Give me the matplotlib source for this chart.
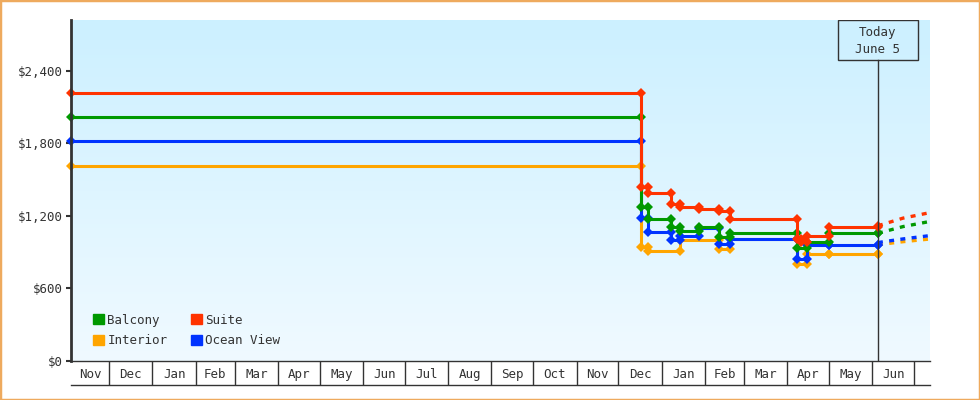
import numpy as np
import pandas as pd
import matplotlib
matplotlib.use("Agg")
import matplotlib.pyplot as plt
import matplotlib.dates as mdates
from matplotlib.patches import Patch, Rectangle
from matplotlib.ticker import FuncFormatter, FixedLocator

plt.rcParams['font.family'] = ['DejaVu Sans Mono', 'DejaVu Sans']

# Intervallo del grafico e data di oggi
inizio = pd.Timestamp("2020-11-03 14:00")
fine = pd.Timestamp("2022-07-12 08:00")
oggi = pd.Timestamp("2022-06-05")

# Prezzi osservati per ogni cabina (data, prezzo)
date_suite = ["2020-11-03 14:00", "2021-12-17", "2021-12-22", "2022-01-08", "2022-01-14", "2022-01-28",
              "2022-02-11", "2022-02-19", "2022-04-08", "2022-04-11", "2022-04-15", "2022-05-01", "2022-06-05"]
prezzi_suite = [2215, 1440, 1390, 1300, 1270, 1258, 1240, 1175, 1010, 985, 1032, 1105, 1112]

date_balcony = ["2020-11-03 14:00", "2021-12-17", "2021-12-22", "2022-01-08", "2022-01-14", "2022-01-28",
                "2022-02-11", "2022-02-19", "2022-04-08", "2022-04-15", "2022-05-01", "2022-06-05"]
prezzi_balcony = [2015, 1275, 1170, 1105, 1070, 1110, 1025, 1055, 930, 980, 1055, 1058]

date_ocean = ["2020-11-03 14:00", "2021-12-17", "2021-12-22", "2022-01-08", "2022-01-14", "2022-01-28",
              "2022-02-11", "2022-02-19", "2022-04-08", "2022-04-15", "2022-05-01", "2022-06-05"]
prezzi_ocean = [1815, 1180, 1068, 1003, 1030, 1095, 968, 1010, 845, 955, 955, 958]

date_interior = ["2020-11-03 14:00", "2021-12-17", "2021-12-22", "2022-01-14", "2022-02-11", "2022-02-19",
                 "2022-04-08", "2022-04-15", "2022-05-01", "2022-06-05"]
prezzi_interior = [1615, 940, 910, 1003, 925, 1008, 800, 880, 880, 882]

# Previsione (tratteggiata) dopo oggi
date_prev = ["2022-06-05", "2022-06-23", "2022-07-12"]
prev_suite = [1117, 1180, 1225]
prev_balcony = [1055, 1110, 1152]
prev_ocean = [978, 1008, 1035]
prev_interior = [960, 985, 1007]

etichette_mesi = ["Nov", "Dec", "Jan", "Feb", "Mar", "Apr", "May", "Jun", "Jul", "Aug", "Sep", "Oct",
                  "Nov", "Dec", "Jan", "Feb", "Mar", "Apr", "May", "Jun"]
tick_y = [0, 600, 1200, 1800, 2400]

colori = {"Balcony": "#009900", "Interior": "#ffa500", "Suite": "#ff3300", "Ocean View": "#0033ff"}


# Costruisco i punti a scalino (prezzo vecchio e prezzo nuovo alla stessa data)
def punti_scalino(date, prezzi):
    xs, ys = [], []
    for i, (d, p) in enumerate(zip(date, prezzi)):
        if i > 0:
            xs.append(d)
            ys.append(prezzi[i - 1])
        xs.append(d)
        ys.append(p)
    return pd.to_datetime(xs, format="ISO8601"), ys


fig = plt.figure(figsize=(9.8, 4), dpi=100)
ax = fig.add_axes([71 / 980, (400 - 360.7) / 400, 859 / 980, 340.7 / 400])

# Sfondo sfumato
grad = np.linspace(0, 1, 256).reshape(-1, 1)
cmap = matplotlib.colors.LinearSegmentedColormap.from_list("sfondo", ["#f0faff", "#ccf0ff"])
ax.imshow(grad, extent=[0, 1, 0, 1], transform=ax.transAxes, aspect="auto",
          origin="lower", cmap=cmap, zorder=0)

serie = [("Interior", date_interior, prezzi_interior, prev_interior),
         ("Ocean View", date_ocean, prezzi_ocean, prev_ocean),
         ("Balcony", date_balcony, prezzi_balcony, prev_balcony),
         ("Suite", date_suite, prezzi_suite, prev_suite)]

for z, (nome, d, p, prev) in enumerate(serie):
    xs, ys = punti_scalino(d, p)
    ax.plot(xs, ys, color=colori[nome], lw=2.2, marker="D", ms=5.6, mew=0,
            clip_on=False, zorder=3 + z)
    ax.plot(pd.to_datetime(date_prev), prev, color=colori[nome], lw=2.4,
            linestyle=(0, (1.5, 1.9)), zorder=3 + z)

ax.set_xlim(inizio, fine)
ax.set_ylim(0, 2820)

# Asse y
ax.yaxis.set_major_locator(FixedLocator(tick_y))
ax.yaxis.set_major_formatter(FuncFormatter(lambda v, pos: "${:,.0f}".format(v)))
ax.tick_params(axis="y", length=3.5, width=1.5, pad=2, colors="#333333", labelsize=9)

# Asse x: riquadri dei mesi
inizi_mesi = pd.date_range("2020-11-01", "2022-07-01", freq="MS")
confini = [m for m in inizi_mesi if inizio < m < fine]
centri = []
for i in range(len(etichette_mesi)):
    a = max(inizi_mesi[i], inizio)
    b = min(inizi_mesi[i + 1], fine)
    centri.append(a + (b - a) / 2)
ax.xaxis.set_minor_locator(FixedLocator(mdates.date2num(confini)))
ax.xaxis.set_major_locator(FixedLocator(mdates.date2num(centri)))
ax.set_xticklabels(etichette_mesi)
ax.tick_params(axis="x", which="major", length=0, pad=5, colors="#333333", labelsize=9)
ax.tick_params(axis="x", which="minor", length=17.5, width=1, color="#333333")
ax.plot([0, 1], [-0.0713, -0.0713], transform=ax.transAxes, color="#333333", lw=1, clip_on=False)

for lato in ["top", "right"]:
    ax.spines[lato].set_visible(False)
ax.spines["left"].set_linewidth(2)
ax.spines["left"].set_color("#333333")
ax.spines["bottom"].set_linewidth(1)
ax.spines["bottom"].set_color("#333333")
ax.spines["left"].set_zorder(10)

# Linea di oggi con riquadro
ax.plot([oggi, oggi], [0, 0.8826], transform=ax.get_xaxis_transform(), color="#333333", lw=1, zorder=8)
ax.add_patch(Rectangle((oggi - pd.Timedelta(days=28.65), 0.8826), pd.Timedelta(days=57.3), 0.1174,
                       transform=ax.get_xaxis_transform(), fill=False, edgecolor="#333333", lw=1, zorder=8))
ax.text(oggi, 0.9384, "Today\nJune 5", transform=ax.get_xaxis_transform(), ha="center", va="center",
        fontsize=9, color="#333333", linespacing=1.35, zorder=9)

# Legenda
maniglie = [Patch(color=colori[n], label=n) for n in ["Balcony", "Interior", "Suite", "Ocean View"]]
leg = ax.legend(handles=maniglie, ncol=2, loc="lower left", bbox_to_anchor=(0.0256, 0.04),
                frameon=False, fontsize=9, handlelength=0.85, handleheight=0.85, handletextpad=0.3,
                columnspacing=1.9, labelspacing=0.6, borderpad=0, borderaxespad=0)
for t in leg.get_texts():
    t.set_color("#333333")

# Bordo arancione esterno
fig.patches.append(Rectangle((0, 0), 1, 1, transform=fig.transFigure, fill=False,
                             edgecolor="#eeaa5e", lw=2.5))

fig.savefig("out.png", dpi=100)
